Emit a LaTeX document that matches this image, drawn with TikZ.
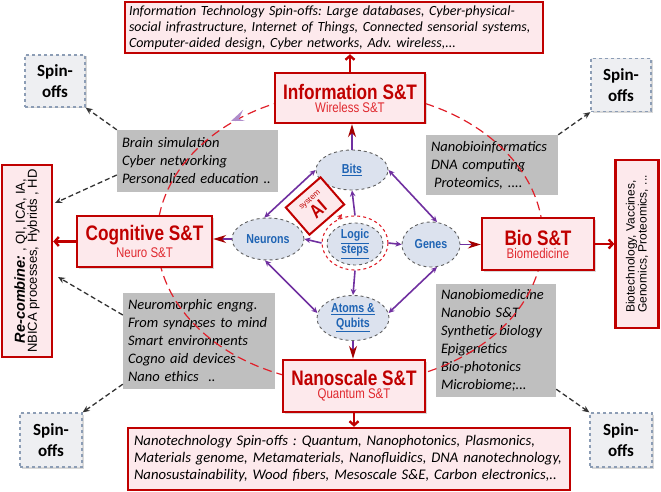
\documentclass[tikz,border=0pt]{standalone}
\usepackage{fontspec}
\setmainfont{Carlito}
\newfontfamily\arialf{Liberation Sans}
\newfontfamily\narrowf[FakeStretch=0.82]{Liberation Sans}
\usetikzlibrary{arrows.meta,shapes.geometric,shadows,calc}
\frenchspacing
\definecolor{boxred}{HTML}{C00000}
\definecolor{subred}{HTML}{E0282E}
\definecolor{pinkfill}{HTML}{FDE9EC}
\definecolor{grayfill}{HTML}{BFBFBF}
\definecolor{ellfill}{HTML}{DCE2EE}
\definecolor{ellblue}{HTML}{1F64B4}
\definecolor{purp}{HTML}{7030A0}
\definecolor{spinfill}{HTML}{EEEFF2}
\definecolor{spinedge}{HTML}{8C9DB5}
\definecolor{dashred}{HTML}{E0202A}
\begin{document}
\begin{tikzpicture}[x=1pt,y=-1pt,
  redbox/.style={draw=boxred, line width=2.4pt, fill=pinkfill},
  stbox/.style={redbox, align=center, inner sep=0pt, drop shadow={shadow xshift=1.5pt, shadow yshift=-1.5pt, opacity=0.3}},
  textbox/.style={redbox, align=left, inner sep=0pt},
  graybox/.style={fill=grayfill, inner sep=0pt, align=left, font=\fontsize{14.5}{18}\selectfont\itshape},
  spinbox/.style={draw=spinedge, dashed, line width=1.3pt, fill=spinfill, align=center, inner sep=0pt,
     font=\fontsize{17}{21}\selectfont\bfseries, drop shadow={shadow xshift=1.5pt, shadow yshift=-1.5pt, opacity=0.3}},
  ell/.style={ellipse, draw=gray!75!black, dashed, line width=0.9pt, fill=ellfill, inner sep=0pt, align=center,
     text=ellblue, font=\narrowf\bfseries\fontsize{13}{15}\selectfont},
  pa/.style={draw=purp, line width=1.6pt},
  pboth/.style={pa, {Stealth[length=6pt,width=5.5pt]}-{Stealth[length=6pt,width=5.5pt]}},
  pone/.style={pa, -{Stealth[length=6pt,width=5.5pt]}},
  redtip/.style={draw=purp, line width=1.4pt, -{Stealth[length=13pt,width=8pt,color=boxred!85!black]}},
  redarrow/.style={draw=boxred, line width=2.4pt, -{Straight Barb[length=4pt,width=9pt]}},
  dasharrow/.style={draw=black!80, line width=1.3pt, dash pattern=on 5pt off 3pt, -{Stealth[length=7pt,width=6pt]}}
]
\useasboundingbox (0,0) rectangle (661,492);

% gray note boxes
\node[graybox, minimum width=161pt, minimum height=62pt, text width=151pt] (tlgray) at (197.5,161)
  {Brain simulation\\Cyber networking\\Personalized education ..};
\node[graybox, minimum width=132pt, minimum height=60pt, text width=122pt] (trgray) at (492,165)
  {Nanobioinformatics\\DNA computing\\\hspace{3pt}Proteomics, ....};
\node[graybox, minimum width=152pt, minimum height=96pt, text width=142pt] (neuro) at (199,341)
  {Neuromorphic engng.\\From synapses to mind\\Smart environments\\Cogno aid devices\\Nano ethics\ \ ..};
\node[graybox, minimum width=120pt, minimum height=113pt, text width=110pt] (nanobio) at (496,340.5)
  {Nanobiomedicine\\Nanobio S\&T\\Synthetic biology\\Epigenetics\\Bio-photonics\\Microbiome;...};

% big dashed ellipse
\draw[dashred, line width=1.2pt, dash pattern=on 9pt off 5pt] (350,238) ellipse [x radius=193pt, y radius=146pt];

% small purple mark
\fill[purp!55] (231,121) -- (243,110) -- (239,119) -- (245,121) -- cycle;

% spin-off boxes
\node[spinbox, minimum width=60pt, minimum height=52pt] (tlspin) at (55,81) {Spin-\\offs};
\node[spinbox, minimum width=60pt, minimum height=53pt] (trspin) at (621,85) {Spin-\\offs};
\node[spinbox, minimum width=62pt, minimum height=54pt] (blspin) at (51,440) {Spin-\\offs};
\node[spinbox, minimum width=62pt, minimum height=54pt] (brspin) at (621,440) {Spin-\\offs};

% top and bottom spin-off text boxes
\node[textbox, minimum width=418pt, minimum height=51pt, text width=410pt, font=\fontsize{14}{16}\selectfont\itshape] (topbox) at (334,27.5)
  {Information Technology Spin-offs: Large databases, Cyber-physical-\\social infrastructure, Internet of Things, Connected sensorial systems,\\Computer-aided design, Cyber networks, Adv. wireless,...};
\node[textbox, minimum width=442pt, minimum height=62pt, text width=430pt, font=\fontsize{14.7}{17}\selectfont\itshape] (botbox) at (349,459)
  {Nanotechnology Spin-offs : Quantum, Nanophotonics, Plasmonics,\\Materials genome, Metamaterials, Nanofluidics, DNA nanotechnology,\\Nanosustainability, Wood fibers, Mesoscale S\&E, Carbon electronics,..};

% side rotated boxes
\node[redbox, rotate=90, minimum width=192pt, minimum height=50pt, inner sep=0pt, align=center] (recomb) at (27,261)
  {{\arialf\bfseries\itshape\fontsize{14.5}{17}\selectfont Re-combine:}{\arialf\fontsize{13}{17}\selectfont\ , QI, ICA, IA,}\\
   {\arialf\fontsize{13}{17}\selectfont NBICA processes, Hybrids , HD}};
\node[redbox, rotate=90, minimum width=168pt, minimum height=43pt, inner sep=0pt, align=left] (rbox) at (637,244)
  {\arialf\fontsize{12}{16}\selectfont Biotechnology, Vaccines,\\\arialf\fontsize{12}{16}\selectfont Genomics, Proteomics, ...};

% S&T boxes
\node[stbox, minimum width=150pt, minimum height=50pt] (info) at (350,98)
  {\textcolor{boxred}{\narrowf\bfseries\fontsize{21}{21}\selectfont Information S\&T}\\[1pt]\textcolor{subred}{\narrowf\fontsize{14}{16}\selectfont Wireless S\&T}};
\node[stbox, minimum width=135pt, minimum height=51pt] (cog) at (144.5,241.5)
  {\textcolor{boxred}{\narrowf\bfseries\fontsize{21}{21}\selectfont Cognitive S\&T}\\[1pt]\textcolor{subred}{\narrowf\fontsize{14}{16}\selectfont Neuro S\&T}};
\node[stbox, minimum width=112pt, minimum height=52pt] (bio) at (538,244)
  {\textcolor{boxred}{\narrowf\bfseries\fontsize{21}{21}\selectfont Bio S\&T}\\[1pt]\textcolor{subred}{\narrowf\fontsize{14}{16}\selectfont Biomedicine}};
\node[stbox, minimum width=142pt, minimum height=52pt] (nano) at (354,386)
  {\textcolor{boxred}{\narrowf\bfseries\fontsize{21}{21}\selectfont Nanoscale S\&T}\\[1pt]\textcolor{subred}{\narrowf\fontsize{14}{16}\selectfont Quantum S\&T}};

% dashed arrows
\draw[dasharrow] (tlgray.north west) -- (tlspin.south east);
\draw[dasharrow] (trgray.north east) -- (trspin.south west);
\draw[dasharrow] ($(neuro.south west)+(0,-5)$) -- (blspin.north east);
\draw[dasharrow] ($(nanobio.south east)+(0,-8)$) -- (brspin.north west);
\draw[dasharrow] ($(tlgray.west)+(0,14)$) -- ($(recomb.center)+(28,-58)$);
\draw[dasharrow] ($(neuro.west)+(0,-26)$) -- ($(recomb.center)+(31,16)$);

% red arrows
\draw[redarrow] (info.north) -- (info.north |- topbox.south);
\draw[redarrow] (cog.west) -- (cog.west -| recomb.south);
\draw[redarrow] (bio.east) -- (bio.east -| rbox.north);
\draw[redarrow] (nano.south) -- (nano.south |- botbox.north);

% central ellipses
\node[ell, minimum width=72pt, minimum height=40pt] (bits) at (352,170) {\underline{Bits}};
\node[ell, minimum width=72pt, minimum height=42pt] (neurons) at (268,239) {Neurons};
\node[ell, minimum width=58pt, minimum height=45pt] (genes) at (431,244.5) {Genes};
\node[ell, minimum width=72pt, minimum height=45pt] (atoms) at (353,318) {\underline{Atoms \&}\\\underline{Qubits}};
\node[ellipse, draw=dashred, dashed, line width=1.1pt, minimum width=66pt, minimum height=54pt] (ring) at (355,243) {};
\node[ell, minimum width=56pt, minimum height=42pt] (logic) at (355,244) {\underline{Logic}\\\underline{steps}};

% purple connectors
\draw[pboth] (neurons.100) -- (bits.180);
\draw[pboth] (bits.0) -- (genes.75);
\draw[pboth] (neurons.262) -- (atoms.172);
\draw[pboth] (atoms.8) -- (genes.285);
\draw[pone] (ring.west) -- (neurons.east);
\draw[pone] (ring.east) -- (genes.west);
\draw[pone] (ring.north) -- (bits.south);
\draw[pone] (ring.south) -- (atoms.north);

% red tipped connectors to S&T boxes
\draw[redtip] (bits.north) -- (bits.north |- info.south);
\draw[redtip] (neurons.west) -- (neurons.west -| cog.east);
\draw[redtip] (genes.east) -- (genes.east -| bio.west);
\draw[redtip] (atoms.south) -- (atoms.south |- nano.north);

% AI system box
\node[redbox, line width=2pt, rotate=41, minimum width=46pt, minimum height=36pt, inner sep=0pt, align=center, text=boxred] (ai) at (315,206)
  {{\arialf\fontsize{8}{8}\selectfont system}\\[1pt]{\narrowf\bfseries\fontsize{19}{19}\selectfont AI}};
\coordinate (aitip) at (342,214);
\draw[dashred, line width=1.2pt, -{Stealth[length=5pt,width=5pt]}] (ring.125) -- (aitip);
\end{tikzpicture}
\end{document}
